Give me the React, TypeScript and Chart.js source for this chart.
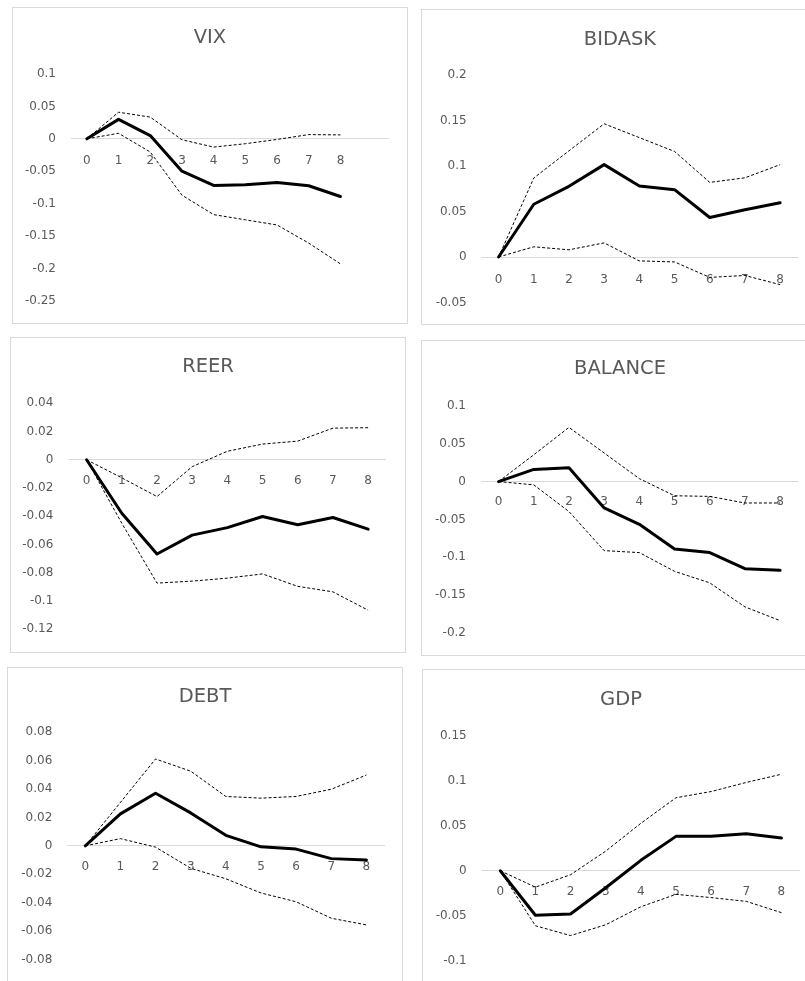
import React, { useEffect, useRef } from 'react';
import { Chart, registerables } from 'chart.js';

Chart.register(...registerables);

// ---------- data ----------
const horizons = ['0', '1', '2', '3', '4', '5', '6', '7', '8'];
const vixHorizons = ['0', '1', '2', '3', '4', '5', '6', '7', '8', ''];

const vixMid = [0, 0.03, 0.005, -0.05, -0.072, -0.071, -0.0675, -0.0725, -0.089];
const vixUpper = [0, 0.041, 0.0335, -0.0015, -0.0128, -0.0076, -0.001, 0.0065, 0.006];
const vixLower = [0, 0.0085, -0.0204, -0.087, -0.117, -0.125, -0.133, -0.161, -0.193];
const vixTicks = [-0.25, -0.2, -0.15, -0.1, -0.05, 0, 0.05, 0.1];

const bidaskMid = [0, 0.058, 0.0777, 0.1015, 0.078, 0.074, 0.0434, 0.052, 0.0597];
const bidaskUpper = [0, 0.0868, 0.1167, 0.1464, 0.1312, 0.116, 0.082, 0.087, 0.1015];
const bidaskLower = [0, 0.0112, 0.0079, 0.0155, -0.0043, -0.0054, -0.0224, -0.0203, -0.0304];
const bidaskTicks = [-0.05, 0, 0.05, 0.1, 0.15, 0.2];

const reerMid = [0, -0.0379, -0.0668, -0.0534, -0.0481, -0.0402, -0.046, -0.0409, -0.0492];
const reerUpper = [0, -0.0128, -0.0261, -0.0049, 0.006, 0.0111, 0.0132, 0.0224, 0.0227];
const reerLower = [0, -0.045, -0.0874, -0.086, -0.0839, -0.0809, -0.0897, -0.0936, -0.1066];
const reerTicks = [-0.12, -0.1, -0.08, -0.06, -0.04, -0.02, 0, 0.02, 0.04];

const balanceMid = [0, 0.0161, 0.0183, -0.0348, -0.0565, -0.0891, -0.0939, -0.1152, -0.1174];
const balanceUpper = [0, 0.0355, 0.0717, 0.0378, 0.0039, -0.0187, -0.0196, -0.0283, -0.0283];
const balanceLower = [0, -0.0043, -0.0396, -0.0913, -0.0939, -0.1187, -0.1339, -0.1657, -0.1839];
const balanceTicks = [-0.2, -0.15, -0.1, -0.05, 0, 0.05, 0.1];

const debtMid = [0, 0.0225, 0.0371, 0.0232, 0.0074, -0.0007, -0.0023, -0.009, -0.01];
const debtUpper = [0, 0.0306, 0.0612, 0.0526, 0.0348, 0.0336, 0.0348, 0.0399, 0.0499];
const debtLower = [0, 0.0051, -0.0009, -0.0158, -0.0232, -0.0332, -0.0394, -0.051, -0.0557];
const debtTicks = [-0.08, -0.06, -0.04, -0.02, 0, 0.02, 0.04, 0.06, 0.08];

const gdpMid = [0, -0.0494, -0.048, -0.0189, 0.0116, 0.0382, 0.0382, 0.0411, 0.0364];
const gdpUpper = [0, -0.0182, -0.0044, 0.0218, 0.0527, 0.0811, 0.088, 0.0981, 0.1072];
const gdpLower = [0, -0.0611, -0.072, -0.06, -0.04, -0.0262, -0.0298, -0.034, -0.0465];
const gdpTicks = [-0.1, -0.05, 0, 0.05, 0.1, 0.15];

// ---------- styles ----------
const FONT = 'DejaVu Sans';
const TEXT_COLOR = '#595959';
const TITLE_SIZE = 19.5;
const TICK_SIZE = 12;

type Spec = {
  title: string;
  labels: string[];
  mid: number[];
  upper: number[];
  lower: number[];
  ticks: number[];
  box: { left: number; top: number; width: number; height: number };
  area: { left: number; right: number; top: number; bottom: number };
  titleY: number;
  yPad: number;
  xPad: number;
};

const panels: Spec[] = [
  {
    title: 'VIX', labels: vixHorizons, mid: vixMid, upper: vixUpper, lower: vixLower, ticks: vixTicks,
    box: { left: 12, top: 7, width: 396, height: 317 },
    area: { left: 58, right: 375, top: 66, bottom: 296 }, titleY: 30, yPad: 15, xPad: 14.5,
  },
  {
    title: 'BIDASK', labels: horizons, mid: bidaskMid, upper: bidaskUpper, lower: bidaskLower, ticks: bidaskTicks,
    box: { left: 421, top: 9, width: 398, height: 316 },
    area: { left: 59, right: 375.7, top: 65, bottom: 295.3 }, titleY: 30, yPad: 14.3, xPad: 15.2,
  },
  {
    title: 'REER', labels: horizons, mid: reerMid, upper: reerUpper, lower: reerLower, ticks: reerTicks,
    box: { left: 10, top: 337, width: 396, height: 316 },
    area: { left: 58, right: 374.7, top: 65.3, bottom: 296 }, titleY: 29.3, yPad: 15.7, xPad: 14.2,
  },
  {
    title: 'BALANCE', labels: horizons, mid: balanceMid, upper: balanceUpper, lower: balanceLower, ticks: balanceTicks,
    box: { left: 421, top: 340, width: 398, height: 316 },
    area: { left: 59, right: 375.7, top: 65, bottom: 294.7 }, titleY: 28.3, yPad: 15, xPad: 13.2,
  },
  {
    title: 'DEBT', labels: horizons, mid: debtMid, upper: debtUpper, lower: debtLower, ticks: debtTicks,
    box: { left: 7, top: 667, width: 396, height: 316 },
    area: { left: 59.7, right: 376, top: 64.3, bottom: 294.3 }, titleY: 28.7, yPad: 15.4, xPad: 13.8,
  },
  {
    title: 'GDP', labels: horizons, mid: gdpMid, upper: gdpUpper, lower: gdpLower, ticks: gdpTicks,
    box: { left: 422, top: 669, width: 398, height: 316 },
    area: { left: 59.7, right: 376, top: 65.7, bottom: 295 }, titleY: 30, yPad: 16, xPad: 13.5,
  },
];

function Panel({ spec }: { spec: Spec }) {
  const ref = useRef<HTMLCanvasElement>(null);
  const W = spec.box.width - 2;
  const H = spec.box.height - 2;

  useEffect(() => {
    if (!ref.current) return;
    const rightGap = W - spec.area.right;
    const lh = TITLE_SIZE * 1.2;
    const dashed = {
      borderColor: '#000000',
      borderWidth: 1,
      borderDash: [3, 2],
      pointRadius: 0,
      tension: 0,
      fill: false,
    };
    const chart = new Chart(ref.current, {
      type: 'line',
      data: {
        labels: spec.labels,
        datasets: [
          { label: 'upper', data: spec.upper, ...dashed },
          { label: 'lower', data: spec.lower, ...dashed },
          {
            label: 'response',
            data: spec.mid,
            borderColor: '#000000',
            borderWidth: 3,
            pointRadius: 0,
            tension: 0,
            fill: false,
            borderJoinStyle: 'round',
            borderCapStyle: 'round',
          },
        ],
      },
      options: {
        responsive: false,
        animation: false,
        devicePixelRatio: 1,
        layout: { padding: { left: 0, right: 0, top: 0, bottom: H - spec.area.bottom } },
        plugins: {
          legend: { display: false },
          tooltip: { enabled: false },
          title: {
            display: true,
            text: spec.title,
            color: TEXT_COLOR,
            font: { family: FONT, size: TITLE_SIZE, weight: 'normal', lineHeight: 1.2 },
            padding: { top: spec.titleY - lh / 2, bottom: spec.area.top - spec.titleY - lh / 2 },
          },
        },
        scales: {
          x: {
            type: 'category',
            offset: true,
            position: { y: 0 },
            grid: { display: false, drawTicks: false },
            border: { display: true, color: '#d9d9d9', width: 1 },
            ticks: {
              color: TEXT_COLOR,
              font: { family: FONT, size: TICK_SIZE },
              padding: spec.xPad,
              autoSkip: false,
              maxRotation: 0,
            },
            afterFit: (s: any) => { s.height = 0; },
          },
          y: {
            type: 'linear',
            position: 'left',
            min: spec.ticks[0],
            max: spec.ticks[spec.ticks.length - 1],
            grid: { display: false, drawTicks: false },
            border: { display: false },
            ticks: {
              color: TEXT_COLOR,
              font: { family: FONT, size: TICK_SIZE },
              padding: spec.yPad,
              callback: (v: any) => String(v),
            },
            afterBuildTicks: (s: any) => { s.ticks = spec.ticks.map((v) => ({ value: v })); },
            afterFit: (s: any) => { s.width = spec.area.left; },
          },
          yRight: {
            type: 'linear',
            position: 'right',
            grid: { display: false, drawTicks: false },
            border: { display: false },
            ticks: { display: false },
            afterFit: (s: any) => { s.width = rightGap; },
          },
        },
      } as any,
    });
    return () => chart.destroy();
  }, [spec]);

  return (
    <div
      style={{
        position: 'absolute',
        left: spec.box.left,
        top: spec.box.top,
        width: spec.box.width,
        height: spec.box.height,
        border: '1px solid #d9d9d9',
        boxSizing: 'border-box',
        background: '#ffffff',
      }}
    >
      <canvas ref={ref} width={W} height={H} style={{ display: 'block', width: W, height: H }} />
    </div>
  );
}

export default function App() {
  return (
    <div
      style={{
        position: 'fixed',
        left: 0,
        top: 0,
        width: 805,
        height: 981,
        overflow: 'hidden',
        background: '#ffffff',
      }}
    >
      {panels.map((p) => (
        <Panel key={p.title} spec={p} />
      ))}
    </div>
  );
}
